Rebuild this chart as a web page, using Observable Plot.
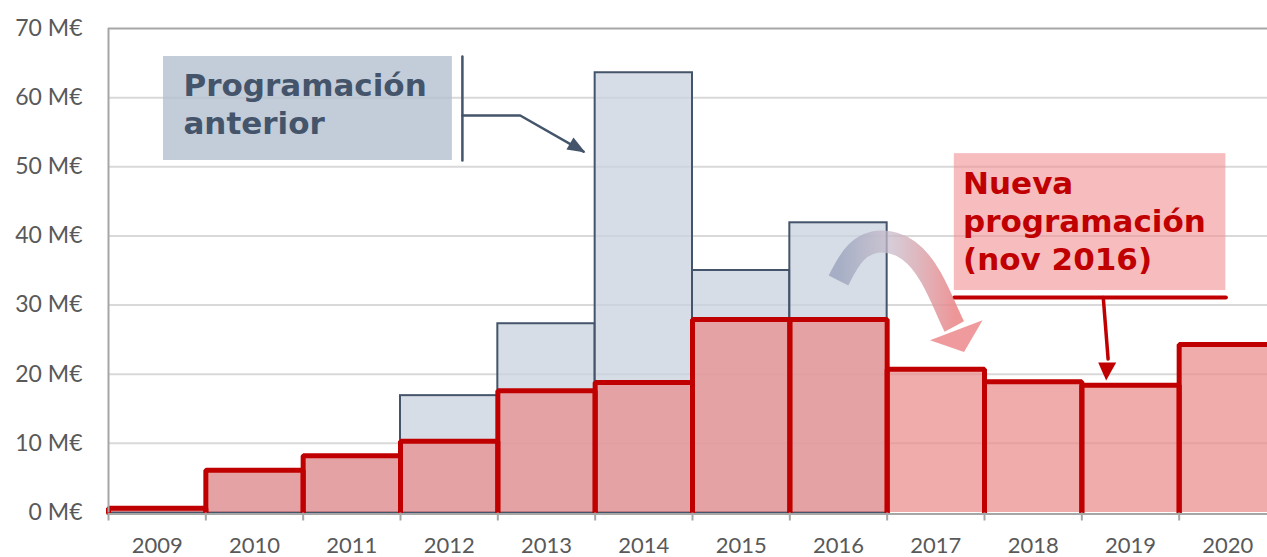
<!DOCTYPE html>
<html><head><meta charset="utf-8">
<script src="https://cdn.jsdelivr.net/npm/d3@7"></script>
<script src="https://cdn.jsdelivr.net/npm/@observablehq/plot@0.6"></script>
<style>html,body{margin:0;padding:0;background:#fff;overflow:hidden}</style>
</head><body><div id="chart"></div>
<script>
// ---- data ----
const years = [2009, 2010, 2011, 2012, 2013, 2014, 2015, 2016, 2017, 2018, 2019, 2020];
const xTickLabels = ["2009", "2010", "2011", "2012", "2013", "2014", "2015", "2016", "2017", "2018", "2019", "2020"];
const programacionAnterior = [0.6, 6.1, 8.2, 16.9, 27.3, 63.6, 35.0, 41.9, null, null, null, null];
const nuevaProgramacion = [0.6, 6.1, 8.2, 10.3, 17.6, 18.8, 27.9, 27.9, 20.7, 18.9, 18.4, 24.3];
const yTicks = [0, 10, 20, 30, 40, 50, 60, 70];
const yTickLabels = ["0 M€", "10 M€", "20 M€", "30 M€", "40 M€", "50 M€", "60 M€", "70 M€"];

// ---- annotation texts & anchors (data space) ----
const textoAnterior = ["Programación\nanterior"];
const textoNueva = ["Nueva\nprogramación\n(nov 2016)"];
const cajaAnterior = [{x1: 2009.065, x2: 2012.033, y1: 50.91, y2: 65.95}];
const cajaNueva = [{x1: 2017.19, x2: 2019.98, y1: 32.1, y2: 51.9}];
const corcheteAnterior = [{x: 2012.136, y: 65.95}, {x: 2012.136, y: 50.91}];
const flechaAnterior = [{x: 2012.136, y: 57.42}, {x: 2012.73, y: 57.42}, {x: 2013.38, y: 52.2}];
const puntaAnterior = [{x: 2013.40, y: 52.07}, {x: 2013.205, y: 52.5}, {x: 2013.277, y: 54.24}];
const rayaNueva = [{x: 2017.19, y: 31.1}, {x: 2019.98, y: 31.1}];
const flechaNueva = [{x: 2018.72, y: 31.1}, {x: 2018.77, y: 22.2}];
const puntaNueva = [{x: 2018.75, y: 19.09}, {x: 2018.668, y: 21.7}, {x: 2018.853, y: 21.7}];
const curva = [
  {x: 2016.00, y: 33.56}, {x: 2016.18, y: 37.6}, {x: 2016.44, y: 39.2},
  {x: 2016.72, y: 37.9}, {x: 2016.95, y: 34.0}, {x: 2017.13, y: 28.7}, {x: 2017.19, y: 26.90}
];
const puntaCurva = [{x: 2017.29, y: 23.2}, {x: 2016.94, y: 24.9}, {x: 2017.48, y: 27.8}];

// ---- derived tables ----
const X0 = years[0] - 0.5, X1 = years[years.length - 1] + 0.5;
const boundaries = [X0, ...years.map(y => y + 0.5)];
const prevBars = years.map((year, i) => ({year, value: programacionAnterior[i]})).filter(d => d.value != null);
const newBars = years.map((year, i) => ({year, value: nuevaProgramacion[i]}));
const newOutline = newBars.flatMap(d => [
  {year: d.year, x: d.year - 0.5, y: 0},
  {year: d.year, x: d.year - 0.5, y: d.value},
  {year: d.year, x: d.year + 0.5, y: d.value},
  {year: d.year, x: d.year + 0.5, y: 0}
]);
const tickSymbol = {draw(ctx) { ctx.moveTo(0, 0); ctx.lineTo(0, 8); }};

const plot = Plot.plot({
  width: 1267,
  height: 557,
  marginLeft: 108, marginTop: 28, marginBottom: 45, marginRight: 0,
  x: {domain: [X0, X1], range: [108, 1276], axis: null},
  y: {domain: [0, 70], range: [512, 28], axis: null},
  style: {fontFamily: "Lato, sans-serif", background: "#fff", overflow: "hidden"},
  marks: [
    Plot.ruleY(yTicks.filter(t => t > 0 && t < 70), {x1: X0, x2: X1, stroke: "#d9d9d9", strokeWidth: 2}),
    Plot.ruleY([70], {x1: X0, x2: X1, stroke: "#a6a6a6", strokeWidth: 2}),
    Plot.rect(prevBars, {x1: d => d.year - 0.5, x2: d => d.year + 0.5, y1: 0, y2: "value",
      fill: "#c9d2de", fillOpacity: 0.75, stroke: "#44546a", strokeWidth: 2}),
    Plot.rect(newBars, {x1: d => d.year - 0.5, x2: d => d.year + 0.5, y1: 0, y2: "value",
      fill: "rgb(234,138,138)", fillOpacity: 0.72}),
    Plot.line(newOutline, {x: "x", y: "y", z: "year", stroke: "#c00000", strokeWidth: 5, strokeLinejoin: "miter"}),
    Plot.ruleX([X0], {y1: 0, y2: 70, stroke: "#a6a6a6", strokeWidth: 2}),
    Plot.ruleY([0], {x1: X0, x2: X1, stroke: "#a6a6a6", strokeWidth: 2, dy: 1.5}),
    Plot.dot(boundaries, {x: d => d, y: 0, symbol: tickSymbol, r: 4, fill: "none", stroke: "#a6a6a6", strokeWidth: 2}),
    Plot.text(yTicks, {x: X0, y: d => d, text: (d, i) => yTickLabels[i], textAnchor: "end", dx: -26,
      fontSize: 23, fill: "#595959"}),
    Plot.text(years, {x: d => d, y: 0, text: (d, i) => xTickLabels[i], dy: 33, fontSize: 22, fill: "#595959"}),
    // annotation: previous programme
    Plot.rect(cajaAnterior, {x1: "x1", x2: "x2", y1: "y1", y2: "y2", fill: "#b4bfcf", fillOpacity: 0.8}),
    Plot.text(textoAnterior, {x: 2009.27, y: 64.1, text: d => d, textAnchor: "start", lineAnchor: "top",
      lineHeight: 1.23, fontFamily: "DejaVu Sans", fontWeight: "bold", fontSize: 31, fill: "#44546a"}),
    Plot.line(corcheteAnterior, {x: "x", y: "y", stroke: "#44546a", strokeWidth: 2.5}),
    Plot.line(flechaAnterior, {x: "x", y: "y", stroke: "#44546a", strokeWidth: 2.5}),
    Plot.line(puntaAnterior, {x: "x", y: "y", fill: "#44546a", stroke: "none"}),
    // annotation: new programme
    Plot.rect(cajaNueva, {x1: "x1", x2: "x2", y1: "y1", y2: "y2", fill: "#f08f92", fillOpacity: 0.6}),
    Plot.text(textoNueva, {x: 2017.28, y: 50.0, text: d => d, textAnchor: "start", lineAnchor: "top",
      lineHeight: 1.23, fontFamily: "DejaVu Sans", fontWeight: "bold", fontSize: 31, fill: "#c00000"}),
    Plot.line(rayaNueva, {x: "x", y: "y", stroke: "#c00000", strokeWidth: 4}),
    Plot.line(flechaNueva, {x: "x", y: "y", stroke: "#c00000", strokeWidth: 3.5}),
    Plot.line(puntaNueva, {x: "x", y: "y", fill: "#c00000", stroke: "none"}),
    // curved transition arrow
    Plot.line(curva, {x: "x", y: "y", curve: "natural", stroke: "url(#curvaGrad)", strokeWidth: 22, strokeLinecap: "butt"}),
    Plot.line(puntaCurva, {x: "x", y: "y", fill: "#ec8a8d", fillOpacity: 0.85, stroke: "none"})
  ]
});

const defs = d3.select(plot).insert("defs", ":first-child");
const grad = defs.append("linearGradient").attr("id", "curvaGrad").attr("x1", "0").attr("y1", "0").attr("x2", "1").attr("y2", "0");
grad.append("stop").attr("offset", "0").attr("stop-color", "#9aa3bd").attr("stop-opacity", 0.8);
grad.append("stop").attr("offset", "0.45").attr("stop-color", "#c8bccb").attr("stop-opacity", 0.75);
grad.append("stop").attr("offset", "1").attr("stop-color", "#ea8486").attr("stop-opacity", 0.85);

document.getElementById("chart").appendChild(plot);
</script>
</body></html>
